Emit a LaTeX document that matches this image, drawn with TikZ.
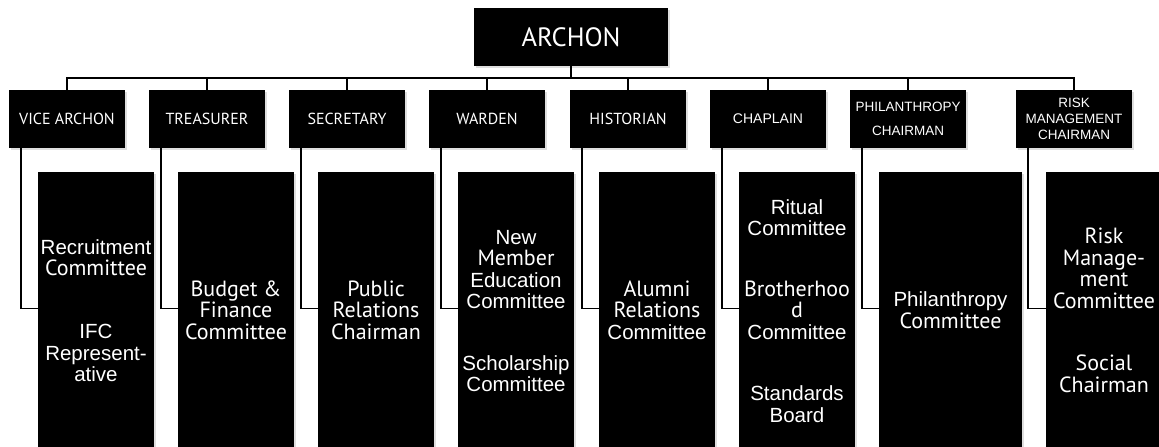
\documentclass[tikz,border=0pt]{standalone}
\usepackage{fontspec}
\setmainfont{PT Sans}
\newfontfamily\ar{Liberation Sans}
\newcommand\A[1]{{\ar\fontsize{20.5}{21.5}\selectfont #1}}
\usetikzlibrary{shadows}
\tikzset{
  box/.style={fill=black, draw=none, text=white, align=center, inner sep=0pt,
    drop shadow={shadow xshift=1.5pt, shadow yshift=-2pt, opacity=0.25}},
  topbox/.style={box, minimum width=194pt, minimum height=58pt, font=\fontsize{26.5}{30}\selectfont},
  role/.style={box, minimum width=116pt, minimum height=58pt, font=\fontsize{16}{18}\selectfont},
  subbox/.style={box, minimum width=116pt, minimum height=278pt},
  lbl/.style={text=white, align=center, inner sep=0pt, font=\fontsize{22}{21.5}\selectfont},
  barline/.style={line width=1.3pt},
  link/.style={line width=1.2pt},
}
\begin{document}
\begin{tikzpicture}[x=1pt,y=-1pt]
\clip (0,0) rectangle (1159,447);
% top
\node[topbox] (archon) at (571,37) {ARCHON};
% officers
\node[role] (vice) at (67,119) {VICE ARCHON};
\node[role] (trea) at (207,119) {TREASURER};
\node[role] (secr) at (347,119) {SECRETARY};
\node[role] (ward) at (487,119) {WARDEN};
\node[role] (hist) at (628,119) {HISTORIAN};
\node[role, font=\ar\fontsize{14}{16}\selectfont] (chap) at (768,119) {CHAPLAIN};
\node[role, font=\ar\fontsize{13.5}{24}\selectfont] (phil) at (908,119) {PHILANTHROPY\\CHAIRMAN};
\node[role, font=\ar\fontsize{13.5}{16}\selectfont] (risk) at (1074,119) {RISK\\MANAGEMENT\\CHAIRMAN};
% committee columns
\node[subbox] (vsub) at (96,311) {};
\node[subbox] (tsub) at (236,311) {};
\node[subbox] (ssub) at (376,311) {};
\node[subbox] (wsub) at (516,311) {};
\node[subbox] (hsub) at (657,311) {};
\node[subbox] (csub) at (797,311) {};
\node[subbox, minimum width=143pt] (psub) at (950.5,311) {};
\node[subbox] (rsub) at (1104,311) {};
% connectors
\coordinate (bar) at (571,78);
\draw[line width=2.6pt] (archon.south) -- (archon.south |- bar);
\draw[barline] (vice.north) |- (risk.north |- bar) -- (risk.north);
\foreach \n in {trea,secr,ward,hist,chap,phil}
  \draw[barline] (\n.north) -- (\n.north |- bar);
\foreach \o/\s in {vice/vsub,trea/tsub,secr/ssub,ward/wsub,hist/hsub,chap/csub,phil/psub,risk/rsub}
  \draw[link] ([xshift=-46pt]\o.south) |- ([yshift=-137pt]\s.north west);
% labels
\node[lbl] (v1) at (96,257.5) {\A{Recruitment}\\Committee};
\node[lbl] (v2) at (96,353) {\A{IFC}\\\A{Represent-}\\\A{ative}};
\node[lbl] (t1) at (236,310) {Budget \&\\Finance\\Committee};
\node[lbl] (s1) at (376,310) {Public\\Relations\\Chairman};
\node[lbl] (w1) at (516,269.5) {\A{New}\\Member\\\A{Education}\\\A{Committee}};
\node[lbl] (w2) at (516,373.5) {\A{Scholarship}\\\A{Committee}};
\node[lbl] (h1) at (657,310) {Alumni\\Relations\\\A{Committee}};
\node[lbl] (c1) at (797,217.5) {\A{Ritual}\\\A{Committee}};
\node[lbl] (c2) at (797,310) {Brotherhoo\\d\\\A{Committee}};
\node[lbl] (c3) at (797,404) {\A{Standards}\\\A{Board}};
\node[lbl] (p1) at (950.5,310) {\A{Philanthropy}\\Committee};
\node[lbl] (r1) at (1104,268.5) {Risk\\Manage-\\ment\\Committee};
\node[lbl] (r2) at (1104,374) {Social\\Chairman};
\end{tikzpicture}
\end{document}
